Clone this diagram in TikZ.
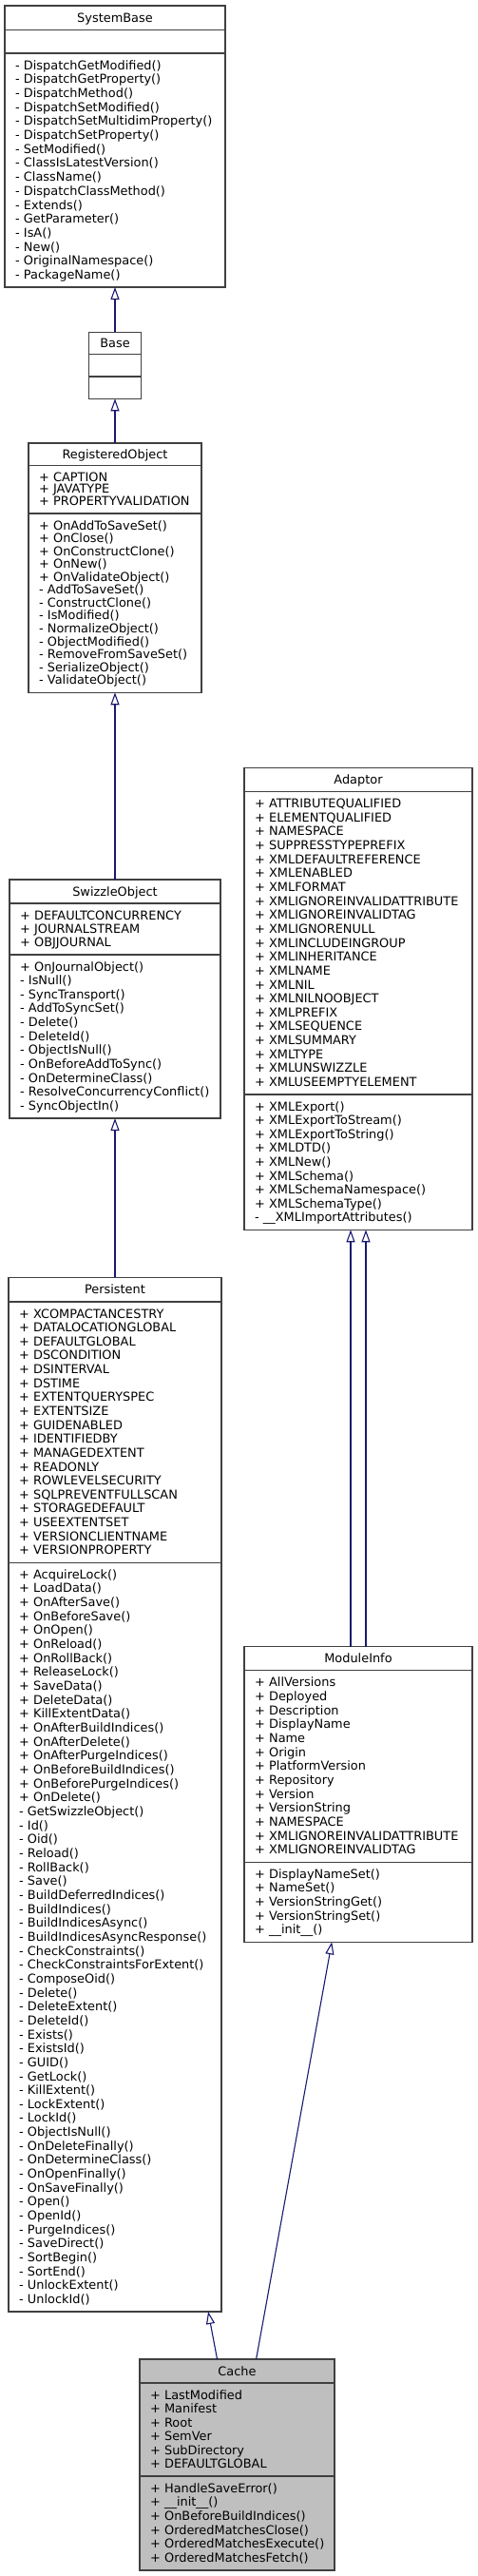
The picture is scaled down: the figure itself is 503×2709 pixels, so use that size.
\documentclass[tikz,border=0pt]{standalone}
\usepackage{fontspec}
\setmainfont{DejaVu Sans}
\usetikzlibrary{arrows.meta}
\definecolor{edgecol}{HTML}{191970}
\definecolor{bordercol}{HTML}{404040}
\definecolor{cachefill}{HTML}{BFBFBF}
\tikzset{
 classbox/.style={draw=bordercol, line width=1.1pt, rectangle, anchor=north west, inner sep=0pt, outer sep=0pt},
 sepline/.style={draw=bordercol, line width=1.1pt},
 classtitle/.style={anchor=base, inner sep=0pt, font=\fontsize{12.9}{15}\selectfont},
 mem/.style={anchor=base west, inner sep=0pt, font=\fontsize{12.9}{15}\selectfont},
 inh/.style={draw=edgecol, line width=1.1pt, -{Triangle[length=13pt,width=9pt,fill=white]}},
}
\newcommand{\umlbox}[9]{%
 \pgfmathsetmacro\boxw{#4-#3}\pgfmathsetmacro\boxh{#8-#5}%
 \node[classbox,#9,minimum width=\boxw pt,minimum height=\boxh pt] (#1) at (#3,#5) {};
 \pgfmathsetmacro\sepa{#6-#5}\pgfmathsetmacro\sepb{#7-#5}%
 \draw[sepline] ([yshift=-\sepa pt]#1.north west) -- ([yshift=-\sepa pt]#1.north east);
 \draw[sepline] ([yshift=-\sepb pt]#1.north west) -- ([yshift=-\sepb pt]#1.north east);
 \pgfmathsetmacro\titleb{(#6-#5)/2+4.6}%
 \node[classtitle] (#1-title) at ([yshift=-\titleb pt]#1.north) {#2};
}
\newcommand{\memsec}[6]{%
 \pgfmathsetmacro\mempitch{(#4-#3-25.5)/max(#5-1,1)}%
 \foreach \mtext [count=\memi] in {#6}{%
   \pgfmathsetmacro\memy{#3+17+(\memi-1)*\mempitch}%
   \node[mem] (#1-\memi) at (#2+11,\memy) {\mtext};
 }}
\begin{document}
\begin{tikzpicture}[x=1pt,y=-1pt]
\fill[white] (0,0) rectangle (503,2709);
\useasboundingbox (0,0) rectangle (503,2709);

% SystemBase
\umlbox{sb}{SystemBase}{5}{237}{6}{31.7}{56}{302}{fill=white}
\memsec{sb-m}{5}{56}{302}{16}{- DispatchGetModified(), - DispatchGetProperty(), - DispatchMethod(), - DispatchSetModified(), - DispatchSetMultidimProperty(), - DispatchSetProperty(), - SetModified(), - ClassIsLatestVersion(), - ClassName(), - DispatchClassMethod(), - Extends(), - GetParameter(), - IsA(), - New(), - OriginalNamespace(), - PackageName()}

% Base
\umlbox{base}{Base}{93.5}{148.5}{349.3}{372.7}{396}{419.3}{fill=white}

% RegisteredObject
\umlbox{ro}{RegisteredObject}{30}{212}{466}{489.3}{540}{728.3}{fill=white}
\memsec{ro-a}{30}{489.3}{540}{3}{+ CAPTION, + JAVATYPE, + PROPERTYVALIDATION}
\memsec{ro-m}{30}{540}{728.3}{13}{+ OnAddToSaveSet(), + OnClose(), + OnConstructClone(), + OnNew(), + OnValidateObject(), - AddToSaveSet(), - ConstructClone(), - IsModified(), - NormalizeObject(), - ObjectModified(), - RemoveFromSaveSet(), - SerializeObject(), - ValidateObject()}

% SwizzleObject
\umlbox{so}{SwizzleObject}{10}{232}{925}{950}{1004}{1176}{fill=white}
\memsec{so-a}{10}{950}{1004}{3}{+ DEFAULTCONCURRENCY, + JOURNALSTREAM, + OBJJOURNAL}
\memsec{so-m}{10}{1004}{1176}{11}{+ OnJournalObject(), - IsNull(), - SyncTransport(), - AddToSyncSet(), - Delete(), - DeleteId(), - ObjectIsNull(), - OnBeforeAddToSync(), - OnDetermineClass(), - ResolveConcurrencyConflict(), - SyncObjectIn()}

% Persistent
\umlbox{pers}{Persistent}{9}{233}{1343.3}{1369}{1643.3}{2431}{fill=white}
\memsec{pers-a}{9}{1369}{1643.3}{18}{+ XCOMPACTANCESTRY, + DATALOCATIONGLOBAL, + DEFAULTGLOBAL, + DSCONDITION, + DSINTERVAL, + DSTIME, + EXTENTQUERYSPEC, + EXTENTSIZE, + GUIDENABLED, + IDENTIFIEDBY, + MANAGEDEXTENT, + READONLY, + ROWLEVELSECURITY, + SQLPREVENTFULLSCAN, + STORAGEDEFAULT, + USEEXTENTSET, + VERSIONCLIENTNAME, + VERSIONPROPERTY}
\memsec{pers-m}{9}{1643.3}{2431}{53}{+ AcquireLock(), + LoadData(), + OnAfterSave(), + OnBeforeSave(), + OnOpen(), + OnReload(), + OnRollBack(), + ReleaseLock(), + SaveData(), + DeleteData(), + KillExtentData(), + OnAfterBuildIndices(), + OnAfterDelete(), + OnAfterPurgeIndices(), + OnBeforeBuildIndices(), + OnBeforePurgeIndices(), + OnDelete(), - GetSwizzleObject(), - Id(), - Oid(), - Reload(), - RollBack(), - Save(), - BuildDeferredIndices(), - BuildIndices(), - BuildIndicesAsync(), - BuildIndicesAsyncResponse(), - CheckConstraints(), - CheckConstraintsForExtent(), - ComposeOid(), - Delete(), - DeleteExtent(), - DeleteId(), - Exists(), - ExistsId(), - GUID(), - GetLock(), - KillExtent(), - LockExtent(), - LockId(), - ObjectIsNull(), - OnDeleteFinally(), - OnDetermineClass(), - OnOpenFinally(), - OnSaveFinally(), - Open(), - OpenId(), - PurgeIndices(), - SaveDirect(), - SortBegin(), - SortEnd(), - UnlockExtent(), - UnlockId()}

% Adaptor
\umlbox{ad}{Adaptor}{257}{497}{807.3}{832.7}{1151}{1293.3}{fill=white}
\memsec{ad-a}{257}{832.7}{1151}{21}{+ ATTRIBUTEQUALIFIED, + ELEMENTQUALIFIED, + NAMESPACE, + SUPPRESSTYPEPREFIX, + XMLDEFAULTREFERENCE, + XMLENABLED, + XMLFORMAT, + XMLIGNOREINVALIDATTRIBUTE, + XMLIGNOREINVALIDTAG, + XMLIGNORENULL, + XMLINCLUDEINGROUP, + XMLINHERITANCE, + XMLNAME, + XMLNIL, + XMLNILNOOBJECT, + XMLPREFIX, + XMLSEQUENCE, + XMLSUMMARY, + XMLTYPE, + XMLUNSWIZZLE, + XMLUSEEMPTYELEMENT}
\memsec{ad-m}{257}{1151}{1293.3}{9}{+ XMLExport(), + XMLExportToStream(), + XMLExportToString(), + XMLDTD(), + XMLNew(), + XMLSchema(), + XMLSchemaNamespace(), + XMLSchemaType(), - \_\_XMLImportAttributes()}

% ModuleInfo
\umlbox{mi}{ModuleInfo}{257}{497}{1731.7}{1756.7}{1958.3}{2042.3}{fill=white}
\memsec{mi-a}{257}{1756.7}{1958.3}{13}{+ AllVersions, + Deployed, + Description, + DisplayName, + Name, + Origin, + PlatformVersion, + Repository, + Version, + VersionString, + NAMESPACE, + XMLIGNOREINVALIDATTRIBUTE, + XMLIGNOREINVALIDTAG}
\memsec{mi-m}{257}{1958.3}{2042.3}{5}{+ DisplayNameSet(), + NameSet(), + VersionStringGet(), + VersionStringSet(), + \_\_init\_\_()}

% Cache
\umlbox{cache}{Cache}{147}{352}{2481}{2506}{2604}{2703}{fill=cachefill}
\memsec{cache-a}{147}{2506}{2604}{6}{+ LastModified, + Manifest, + Root, + SemVer, + SubDirectory, + DEFAULTGLOBAL}
\memsec{cache-m}{147}{2604}{2703}{6}{+ HandleSaveError(), + \_\_init\_\_(), + OnBeforeBuildIndices(), + OrderedMatchesClose(), + OrderedMatchesExecute(), + OrderedMatchesFetch()}

% inheritance connectors
\draw[inh] (base) -- (sb);
\draw[inh] (ro) -- (base);
\draw[inh] (so) -- (ro);
\draw[inh] (pers) -- (so);
\draw[inh] (cache) -- (pers);
\draw[inh] (cache) -- (mi);
\draw[inh] ([xshift=-8pt]mi.north) -- ([xshift=-8pt]ad.south);
\draw[inh] ([xshift=8pt]mi.north) -- ([xshift=8pt]ad.south);
\end{tikzpicture}
\end{document}
